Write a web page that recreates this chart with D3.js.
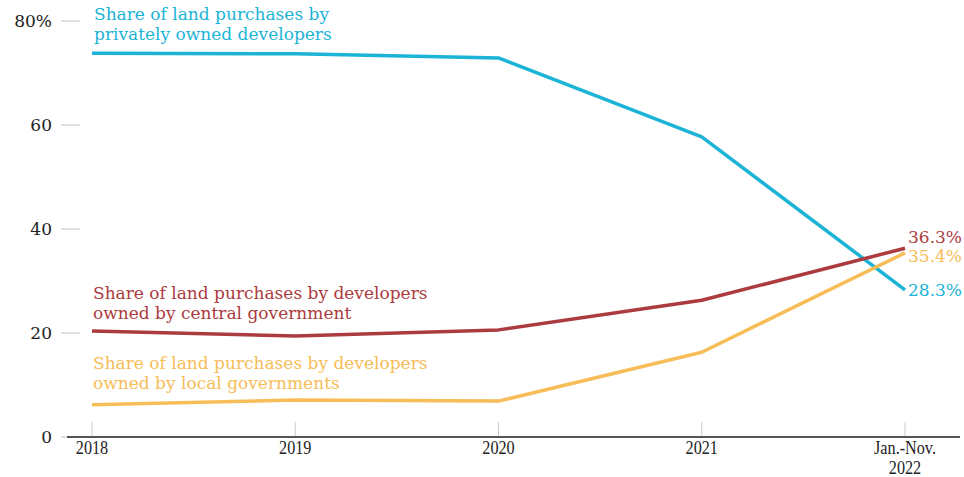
<!DOCTYPE html>
<html>
<head>
<meta charset="utf-8">
<script src="https://cdn.jsdelivr.net/npm/d3@7"></script>
<style>
  html, body { margin: 0; padding: 0; background: #fff; }
  svg { display: block; }
  .ylab { font-family: "DejaVu Serif", "Liberation Serif", serif; font-size: 17px; fill: #222; }
  .xlab { font-family: "Liberation Serif", "DejaVu Serif", serif; font-size: 18px; fill: #222; }
  .note { font-family: "DejaVu Serif", "Liberation Serif", serif; font-size: 17px; }
  .endlab { font-family: "DejaVu Serif", "Liberation Serif", serif; font-size: 17px; }
</style>
</head>
<body>
<svg id="chart" width="964" height="477"></svg>
<script>
// Periods on the horizontal axis
const periods = ["2018", "2019", "2020", "2021", "Jan.-Nov. 2022"];
const periodLines = [["2018"], ["2019"], ["2020"], ["2021"], ["Jan.-Nov.", "2022"]];

// Share of land purchases (%) by developer ownership
const privateShare = [73.8, 73.7, 72.9, 57.7, 28.3];
const centralShare = [20.4, 19.4, 20.6, 26.3, 36.3];
const localShare = [6.2, 7.1, 6.9, 16.3, 35.4];

const yTicks = [0, 20, 40, 60, 80];

const series = [
  { name: "private", values: privateShare, color: "#1bb4d6",
    label: ["Share of land purchases by", "privately owned developers"] },
  { name: "central", values: centralShare, color: "#ac3b40",
    label: ["Share of land purchases by developers", "owned by central government"] },
  { name: "local", values: localShare, color: "#f6bd58",
    label: ["Share of land purchases by developers", "owned by local governments"] }
];

const svg = d3.select("#chart");

const x = d3.scalePoint().domain(periods).range([92, 905]);
const y = d3.scaleLinear().domain([0, 80]).range([437, 21]);

// Y tick marks and labels
const yAxis = svg.append("g");
yAxis.selectAll("line").data(yTicks).join("line")
  .attr("x1", 61).attr("x2", 80)
  .attr("y1", d => y(d)).attr("y2", d => y(d))
  .attr("stroke", "#c4c4c4").attr("stroke-width", 1);
yAxis.selectAll("text").data(yTicks).join("text")
  .attr("class", "ylab")
  .attr("x", 52).attr("y", d => y(d) + 6)
  .attr("text-anchor", "end")
  .text(d => d === 80 ? "80%" : d);

// X baseline, ticks and labels (narrowed serif, one text per line)
const xAxis = svg.append("g");
xAxis.selectAll("line.tick").data(periods).join("line")
  .attr("class", "tick")
  .attr("x1", d => x(d)).attr("x2", d => x(d))
  .attr("y1", y(0) - 15).attr("y2", y(0))
  .attr("stroke", "#ccc").attr("stroke-width", 1);
xAxis.append("line")
  .attr("x1", 67).attr("x2", 960)
  .attr("y1", y(0)).attr("y2", y(0))
  .attr("stroke", "#555").attr("stroke-width", 2);
const xLabelRows = periods.flatMap((p, i) => periodLines[i].map((t, j) => ({ p, t, j })));
xAxis.selectAll("text").data(xLabelRows).join("text")
  .attr("class", "xlab")
  .attr("text-anchor", "middle")
  .attr("transform", d => `translate(${x(d.p)},${y(0) + 16.5 + d.j * 20}) scale(0.9,1)`)
  .text(d => d.t);

// Lines
const line = d3.line().x((d, i) => x(periods[i])).y(d => y(d));
svg.append("g").selectAll("path").data(series).join("path")
  .attr("d", d => line(d.values))
  .attr("fill", "none")
  .attr("stroke", d => d.color)
  .attr("stroke-width", 3.5)
  .attr("stroke-linejoin", "round");

// Series notes
const notePos = { private: [94, 20], central: [93, 299], local: [93, 369] };
series.forEach(s => {
  const [nx, ny] = notePos[s.name];
  const t = svg.append("text").attr("class", "note").attr("fill", s.color)
    .attr("x", nx).attr("y", ny);
  s.label.forEach((l, j) => t.append("tspan").attr("x", nx).attr("dy", j === 0 ? 0 : 20).text(l));
});

// End value labels
const endOffset = { private: 6, central: -5, local: 9 };
const last = periods.length - 1;
svg.append("g").selectAll("text").data(series).join("text")
  .attr("class", "endlab")
  .attr("fill", d => d.color)
  .attr("x", x(periods[last]) + 3)
  .attr("y", d => y(d.values[last]) + endOffset[d.name])
  .text(d => d.values[last].toFixed(1) + "%");
</script>
</body>
</html>
